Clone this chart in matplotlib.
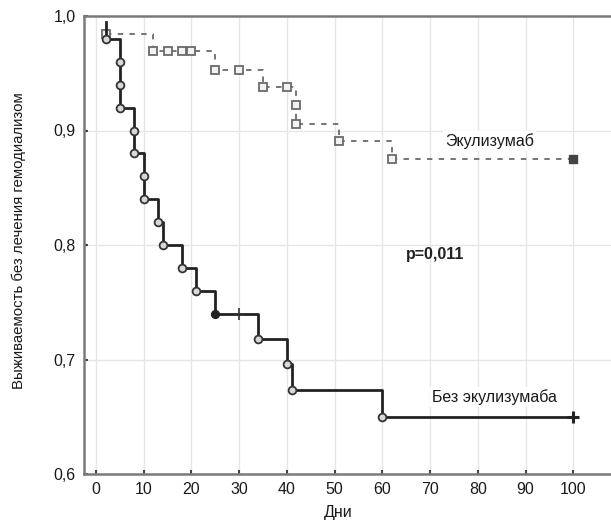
import numpy as np
import matplotlib
matplotlib.use("Agg")
import matplotlib.pyplot as plt

plt.rcParams['font.family'] = ['Liberation Sans Narrow', 'Liberation Sans', 'DejaVu Sans']

# Без экулизумаба (solid line, circles)
no_ecu_t = [2, 2, 5, 5, 5, 8, 8, 10, 10, 13, 14, 18, 21, 25, 34, 40, 41, 60, 100]
no_ecu_s = [0.995, 0.98, 0.96, 0.94, 0.92, 0.90, 0.88, 0.86, 0.84, 0.82, 0.80, 0.78, 0.76, 0.74, 0.718, 0.696, 0.673, 0.650, 0.650]
no_ecu_circ_t = [2, 5, 5, 5, 8, 8, 10, 10, 13, 14, 18, 21, 34, 40, 41, 60]
no_ecu_circ_s = [0.98, 0.96, 0.94, 0.92, 0.90, 0.88, 0.86, 0.84, 0.82, 0.80, 0.78, 0.76, 0.718, 0.696, 0.673, 0.650]
no_ecu_filled = (25, 0.74)
no_ecu_cens_t = [30, 100]
no_ecu_cens_s = [0.74, 0.650]

# Экулизумаб (dashed line, squares)
ecu_t = [2, 12, 25, 35, 42, 42, 51, 62, 100]
ecu_s = [0.984, 0.969, 0.953, 0.938, 0.922, 0.906, 0.891, 0.875, 0.875]
ecu_sq_t = [2, 12, 15, 18, 20, 25, 30, 35, 40, 42, 42, 51, 62]
ecu_sq_s = [0.984, 0.969, 0.969, 0.969, 0.969, 0.953, 0.953, 0.938, 0.938, 0.922, 0.906, 0.891, 0.875]

xticks = list(range(0, 101, 10))
yticks = [0.6, 0.7, 0.8, 0.9, 1.0]
ytick_labels = ["0,6", "0,7", "0,8", "0,9", "1,0"]

fig = plt.figure(figsize=(6.11, 5.22), dpi=100)
ax = fig.add_axes([84.3 / 611, 48 / 522, 1 - 84.3 / 611, 458 / 522])

ax.set_xlim(-2.45, 107.9)
ax.set_ylim(0.6, 1.0)

ax.grid(True, color="#e6e6e6", linewidth=1.0)
ax.set_axisbelow(True)

# dashed curve
ax.step(ecu_t, ecu_s, where="post", color="#6a6a6a", linewidth=1.3,
        linestyle=(0, (3, 3.5)), zorder=2)
ax.plot(ecu_sq_t, ecu_sq_s, linestyle="none", marker="s", markersize=5.2,
        markerfacecolor="#f2f2f2", markeredgecolor="#6a6a6a", markeredgewidth=1.3, zorder=3)
ax.plot([ecu_t[-1]], [ecu_s[-1]], linestyle="none", marker="s", markersize=5.2,
        markerfacecolor="#444444", markeredgecolor="#444444", zorder=3)

# solid curve
ax.step(no_ecu_t, no_ecu_s, where="post", color="#222222", linewidth=2.0, zorder=4)
ax.plot(no_ecu_circ_t, no_ecu_circ_s, linestyle="none", marker="o", markersize=5.6,
        markerfacecolor="#d8d8d8", markeredgecolor="#333333", markeredgewidth=1.3, zorder=5)
ax.plot([no_ecu_filled[0]], [no_ecu_filled[1]], linestyle="none", marker="o", markersize=5.6,
        markerfacecolor="#222222", markeredgecolor="#222222", zorder=5)
ax.plot(no_ecu_cens_t[:1], no_ecu_cens_s[:1], linestyle="none", marker="+", markersize=8,
        markeredgecolor="#333333", markeredgewidth=1.2, zorder=5)
ax.plot(no_ecu_cens_t[1:], no_ecu_cens_s[1:], linestyle="none", marker="+", markersize=9,
        markeredgecolor="#222222", markeredgewidth=2.2, zorder=5)

ax.text(82.5, 0.891, "Экулизумаб", fontsize=11.5, ha="center", va="center", color="#1a1a1a",
        bbox=dict(facecolor="white", edgecolor="none", pad=1.5), zorder=6)
ax.text(83.5, 0.667, "Без экулизумаба", fontsize=11.5, ha="center", va="center", color="#1a1a1a",
        bbox=dict(facecolor="white", edgecolor="none", pad=1.5), zorder=6)
ax.text(71, 0.792, "p=0,011", fontsize=11.5, fontweight="bold", ha="center", va="center",
        color="#222222", family=["Liberation Sans", "DejaVu Sans"], zorder=6)

ax.set_xticks(xticks)
ax.set_xticklabels([str(v) for v in xticks])
ax.set_yticks(yticks)
ax.set_yticklabels(ytick_labels)
ax.tick_params(direction="in", length=3, width=1.5, color="#444444", labelsize=11.5,
               labelcolor="#1a1a1a", pad=6)

for side in ["left", "bottom", "top"]:
    ax.spines[side].set_color("#7a7a7a")
    ax.spines[side].set_linewidth(1.8)
ax.spines["right"].set_visible(False)

ax.set_xlabel("Дни", fontsize=11.5, color="#1a1a1a")
ax.xaxis.set_label_coords((338 - 84.3) / (611 - 84.3), -0.067)
ax.set_ylabel("Выживаемость без лечения гемодиализом", fontsize=10.8, color="#1a1a1a")
ax.yaxis.set_label_coords(-0.11, 0.51)

fig.savefig("out.png", dpi=100)
